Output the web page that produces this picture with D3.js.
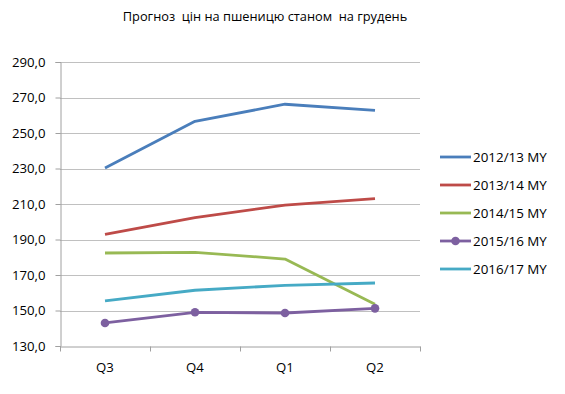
<!DOCTYPE html>
<html><head><meta charset="utf-8">
<script src="https://cdn.jsdelivr.net/npm/d3@7"></script>
<style>body{margin:0;background:#fff}svg{display:block}text{font-family:"Open Sans","Liberation Sans",sans-serif;fill:#000}</style>
</head><body><svg id="c" width="565" height="394"></svg>
<script>
const categories = ["Q3","Q4","Q1","Q2"];
const seriesNames = ["2012/13 MY","2013/14 MY","2014/15 MY","2015/16 MY","2016/17 MY"];
const s2012 = [230.3,256.6,266.2,262.8];
const s2013 = [192.9,202.3,209.4,213.0];
const s2014 = [182.4,182.8,179.0,153.5];
const s2015 = [143.0,149.0,148.6,151.2];
const s2016 = [155.4,161.4,164.2,165.5];
const yTicks = [130,150,170,190,210,230,250,270,290];
const colors = ["#4A7EBB","#BE4B48","#98B954","#7D60A0","#46AAC5"];
const markers = [false,false,false,true,false];
const title = "Прогноз  цін на пшеницю станом  на грудень";

const values = [s2012,s2013,s2014,s2015,s2016];
const svg = d3.select("#c");
const mLeft=60,mRight=420,mTop=62,mBottom=346;
const x = d3.scaleBand().domain(categories).range([mLeft,mRight]);
const y = d3.scaleLinear().domain([130,290]).range([mBottom,mTop]);

svg.append("text").attr("x",265).attr("y",21).attr("text-anchor","middle").attr("font-size",12.8).attr("xml:space","preserve").style("white-space","pre").text(title);

// gridlines
svg.append("g").selectAll("line").data(yTicks.slice(1)).join("line")
  .attr("x1",mLeft).attr("x2",mRight).attr("y1",d=>Math.round(y(d))+0.5).attr("y2",d=>Math.round(y(d))+0.5)
  .attr("stroke","#c0c0c0").attr("stroke-width",1);

// y axis
const yAxis = svg.append("g").attr("transform",`translate(${mLeft+0.5},0)`)
  .call(d3.axisLeft(y).tickValues(yTicks).tickSize(5).tickPadding(10).tickFormat(d=>d3.format(".1f")(d).replace(".",",")));
yAxis.select(".domain").attr("stroke","#a0a0a0");
yAxis.selectAll(".tick line").attr("stroke","#a0a0a0");
yAxis.selectAll("text").attr("font-size",13.2).style("font-family","'Open Sans','Liberation Sans',sans-serif").attr("fill","#000");

// x axis
const xAxis = svg.append("g").attr("transform",`translate(0,${Math.round(y(130))+0.5})`)
  .call(d3.axisBottom(x).tickSize(0).tickPadding(16));
xAxis.select(".domain").attr("stroke","#a0a0a0");
xAxis.selectAll("text").attr("font-size",13.2).style("font-family","'Open Sans','Liberation Sans',sans-serif").attr("fill","#000");
xAxis.selectAll("line.sep").data(d3.range(categories.length+1)).join("line").attr("class","sep")
  .attr("x1",i=>mLeft+i*x.bandwidth()+0.5).attr("x2",i=>mLeft+i*x.bandwidth()+0.5)
  .attr("y1",0).attr("y2",5).attr("stroke","#a0a0a0");

const line = d3.line().x((d,i)=>x(categories[i])+x.bandwidth()/2).y(d=>y(d));
values.forEach((vals,k)=>{
  svg.append("path").attr("d",line(vals)).attr("fill","none").attr("stroke",colors[k]).attr("stroke-width",2.8).attr("stroke-linejoin","round");
  if(markers[k]){
    svg.append("g").selectAll("circle").data(vals).join("circle")
      .attr("cx",(d,i)=>x(categories[i])+x.bandwidth()/2).attr("cy",d=>y(d)).attr("r",4.3).attr("fill",colors[k]);
  }
});

// legend
const lg = svg.append("g");
seriesNames.forEach((n,k)=>{
  const yy = 157 + k*28;
  lg.append("line").attr("x1",440).attr("x2",471).attr("y1",yy).attr("y2",yy).attr("stroke",colors[k]).attr("stroke-width",2.8);
  if(markers[k]) lg.append("circle").attr("cx",455.5).attr("cy",yy).attr("r",4.3).attr("fill",colors[k]);
  lg.append("text").attr("x",473).attr("y",yy+4.8).attr("font-size",13.4).text(n);
});
</script></body></html>
